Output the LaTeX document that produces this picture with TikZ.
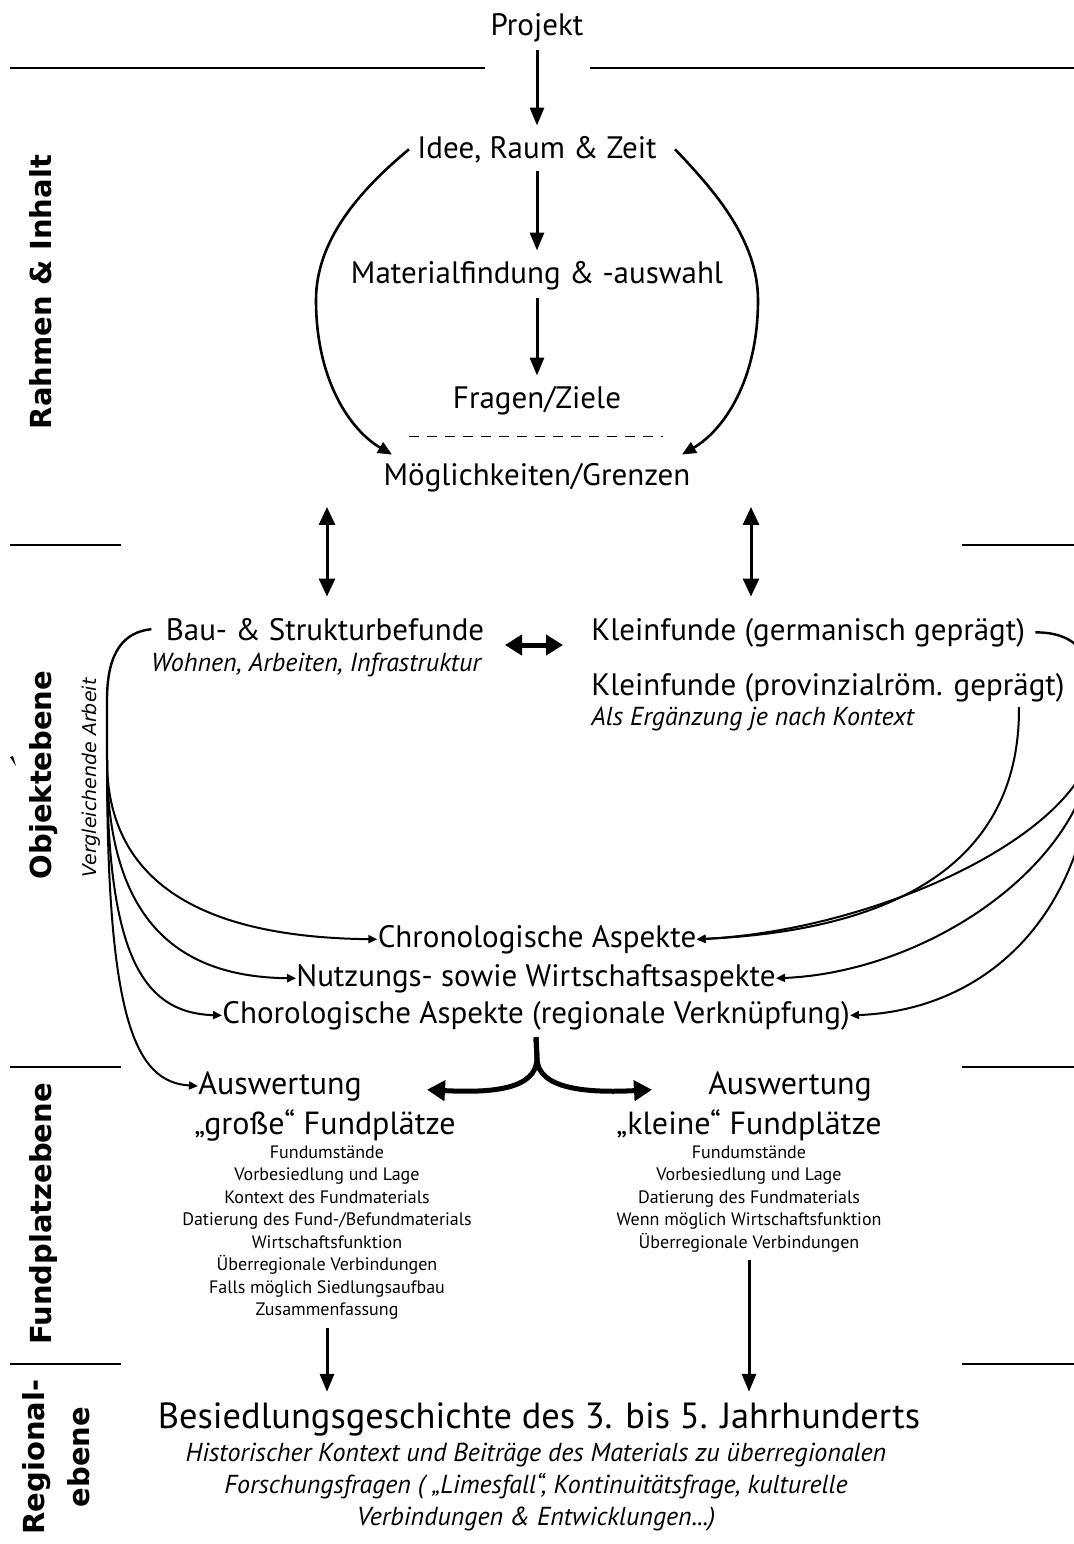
\documentclass[tikz,border=0pt]{standalone}
\usepackage{fontspec}
\setmainfont{PT Sans}
\newfontfamily\sidefont{DejaVu Sans}
\usetikzlibrary{arrows.meta, calc}

\begin{document}
\begin{tikzpicture}[
    x=0.5pt, y=-0.5pt,
    every node/.style={inner sep=0pt, color=black},
    main text/.style={anchor=base, font=\fontsize{15.5}{18}\selectfont},
    big text/.style={anchor=base, font=\fontsize{16}{19}\selectfont},
    title text/.style={anchor=base, font=\fontsize{18.2}{21}\selectfont},
    note/.style={anchor=base, font=\fontsize{13}{16}\selectfont\itshape},
    item list/.style={anchor=north, align=center, font=\fontsize{9}{11.25}\selectfont},
    level/.style={anchor=base, rotate=90, font=\sidefont\bfseries\fontsize{14.5}{17}\selectfont},
    flow/.style={line width=1.5pt, -{Triangle[length=9pt,width=7pt]}, shorten <=4pt, shorten >=5pt},
    both/.style={line width=1.5pt, {Triangle[length=9pt,width=8pt]}-{Triangle[length=9pt,width=8pt]}},
    link/.style={line width=2.5pt, {Triangle[length=8.5pt,width=10pt]}-{Triangle[length=8.5pt,width=10pt]}},
    loop line/.style={line width=1.3pt, -{Triangle[length=7pt,width=6pt]}},
    fan/.style={line width=1pt, -{Triangle[length=4.5pt,width=4pt]}},
    fork/.style={line width=2.5pt, -{Triangle[length=9pt,width=10pt]}},
    sep line/.style={line width=1.3pt},
    dashed line/.style={dash pattern=on 5pt off 4pt, line width=0.9pt}
    ]
    \useasboundingbox (0,0) rectangle (1074,1544);
    \fill[white] (0,0) rectangle (1074,1544);
    \clip (0,0) rectangle (1074,1544);
    % Levels
    \node[level] (rahmen) at (52,292) {Rahmen \& Inhalt};
    \node[level] (objekt) at (52,775) {Objektebene};
    \fill (10,757) -- (13,756) -- (16,766) -- cycle;
    \node[level] (fundpl) at (52,1214) {Fundplatzebene};
    \node[level] (regio) at (44,1457) {Regional-};
    \node[level] (ebene) at (90,1457) {ebene};
    \node[anchor=base, rotate=90, font=\sidefont\itshape\fontsize{9.5}{11}\selectfont] (vergl) at (97,778) {Vergleichende Arbeit};
    % Separators
    \draw[sep line] (10,68) -- (485,68);
    \draw[sep line] (590,68) -- (1074,68);
    \foreach \y in {545,1067,1364} {
        \draw[sep line] (10,\y) -- (121,\y);
        \draw[sep line] (962,\y) -- (1074,\y);
    }
    % Frame and content
    \node[main text] (proj) at (537,35) {Projekt};
    \node[main text] (idee) at (537,158) {Idee, Raum \& Zeit};
    \node[main text] (mat) at (537,283) {Materialfindung \& -auswahl};
    \node[main text] (ziele) at (537,408) {Fragen/Ziele};
    \node[main text] (grenzen) at (537,485) {Möglichkeiten/Grenzen};
    % Objects
    \node[main text] (bau) at (325,640) {Bau- \& Strukturbefunde};
    \node[note] (bausub) at (316,671) {Wohnen, Arbeiten, Infrastruktur};
    \node[main text, anchor=base west] (kfg) at (591,640) {Kleinfunde (germanisch geprägt)};
    \node[main text, anchor=base west] (kfp) at (591,695) {Kleinfunde (provinzialröm. geprägt)};
    \node[note, anchor=base west] (kfsub) at (591,725) {Als Ergänzung je nach Kontext};
    \node[main text] (chrono) at (537,947) {Chronologische Aspekte};
    \node[main text] (nutz) at (536,986) {Nutzungs- sowie Wirtschaftsaspekte};
    \node[main text] (choro) at (536,1023) {Chorologische Aspekte (regionale Verknüpfung)};
    % Sites
    \node[big text, anchor=base west] (ausL) at (198,1094) {Auswertung};
    \node[big text] (grossL) at (325,1134) {„große“ Fundplätze};
    \node[item list] (listL) at (327,1145) {Fundumstände\\Vorbesiedlung und Lage\\Kontext des Fundmaterials\\Datierung des Fund-/Befundmaterials\\Wirtschaftsfunktion\\Überregionale Verbindungen\\Falls möglich Siedlungsaufbau\\Zusammenfassung};
    \node[big text] (ausR) at (790,1094) {Auswertung};
    \node[big text] (kleinR) at (749,1134) {„kleine“ Fundplätze};
    \node[item list] (listR) at (749,1145) {Fundumstände\\Vorbesiedlung und Lage\\Datierung des Fundmaterials\\Wenn möglich Wirtschaftsfunktion\\Überregionale Verbindungen};
    % Region
    \node[title text] (besied) at (539,1428) {Besiedlungsgeschichte des 3. bis 5. Jahrhunderts};
    \node[note, anchor=north, align=center] (hist) at (536,1443) {Historischer Kontext und Beiträge des Materials zu überregionalen\\Forschungsfragen ( „Limesfall“, Kontinuitätsfrage, kulturelle\\Verbindungen \& Entwicklungen...)};
    % Arrows
    \draw[flow] (proj) -- (idee);
    \draw[flow] (idee) -- (mat);
    \draw[flow] (mat) -- (ziele);
    \draw[loop line] ($(idee.west)+(-8,0)$) .. controls (360,190) and (316,240) .. (316,300)
        .. controls (316,380) and (350,430) .. ($(grenzen.north)+(-145,-8)$);
    \draw[loop line] ($(idee.east)+(18,0)$) .. controls (714,190) and (758,240) .. (758,300)
        .. controls (758,380) and (724,430) .. ($(grenzen.north)+(145,-8)$);
    \draw[dashed line] ($(grenzen.north)+(-128,-26)$) -- ($(grenzen.north)+(126,-26)$);
    \draw[both] ($(grenzen.south)+(-210,15)$) -- ($(bau.north)+(2,-21)$);
    \draw[both] ($(grenzen.south)+(214,15)$) -- ($(kfg.north west)+(160,-21)$);
    \draw[link] ($(kfg.base west)+(-86,5)$) -- ($(kfg.base west)+(-28,5)$);
    % Left fan
    \draw[line width=1.2pt] ($(bau.west)+(-14,0)$) .. controls (125,632) and (107,650) .. (107,700)
        -- (107,760) coordinate (lfan);
    \draw[fan] (lfan) .. controls (107,860) and (170,937) .. (chrono.west);
    \draw[fan] (lfan) .. controls (107,900) and (160,977) .. (nutz.west);
    \draw[fan] (lfan) .. controls (107,950) and (140,1013) .. (choro.west);
    \draw[fan] (lfan) .. controls (107,1020) and (135,1082) .. (ausL.west);
    % Right fan
    \draw[line width=1.2pt] ($(kfg.east)+(10,0)$) .. controls (1080,632) and (1095,660) .. (1095,700)
        -- (1095,730) coordinate (rfan);
    \draw[fan] (rfan) .. controls (1095,830) and (880,930) .. (chrono.east);
    \draw[fan] (rfan) .. controls (1095,860) and (930,972) .. (nutz.east);
    \draw[fan] (rfan) .. controls (1095,910) and (990,1010) .. (choro.east);
    \draw[fan] ($(kfp.south east)+(-46,5)$) .. controls (1020,860) and (900,930) .. (chrono.east);
    % Fork
    \coordinate (split) at (537,1058);
    \draw[fork] ($(choro.south)+(0,7)$) -- (split) .. controls (537,1090) and (490,1093) .. ($(grossL.north)+(102,-19)$);
    \draw[fork] ($(choro.south)+(0,7)$) -- (split) .. controls (537,1090) and (590,1093) .. ($(kleinR.north)+(-97,-19)$);
    \draw[flow] (listL) -- (listL.south |- besied.north);
    \draw[flow] (listR) -- (listR.south |- besied.north);
\end{tikzpicture}
\end{document}
